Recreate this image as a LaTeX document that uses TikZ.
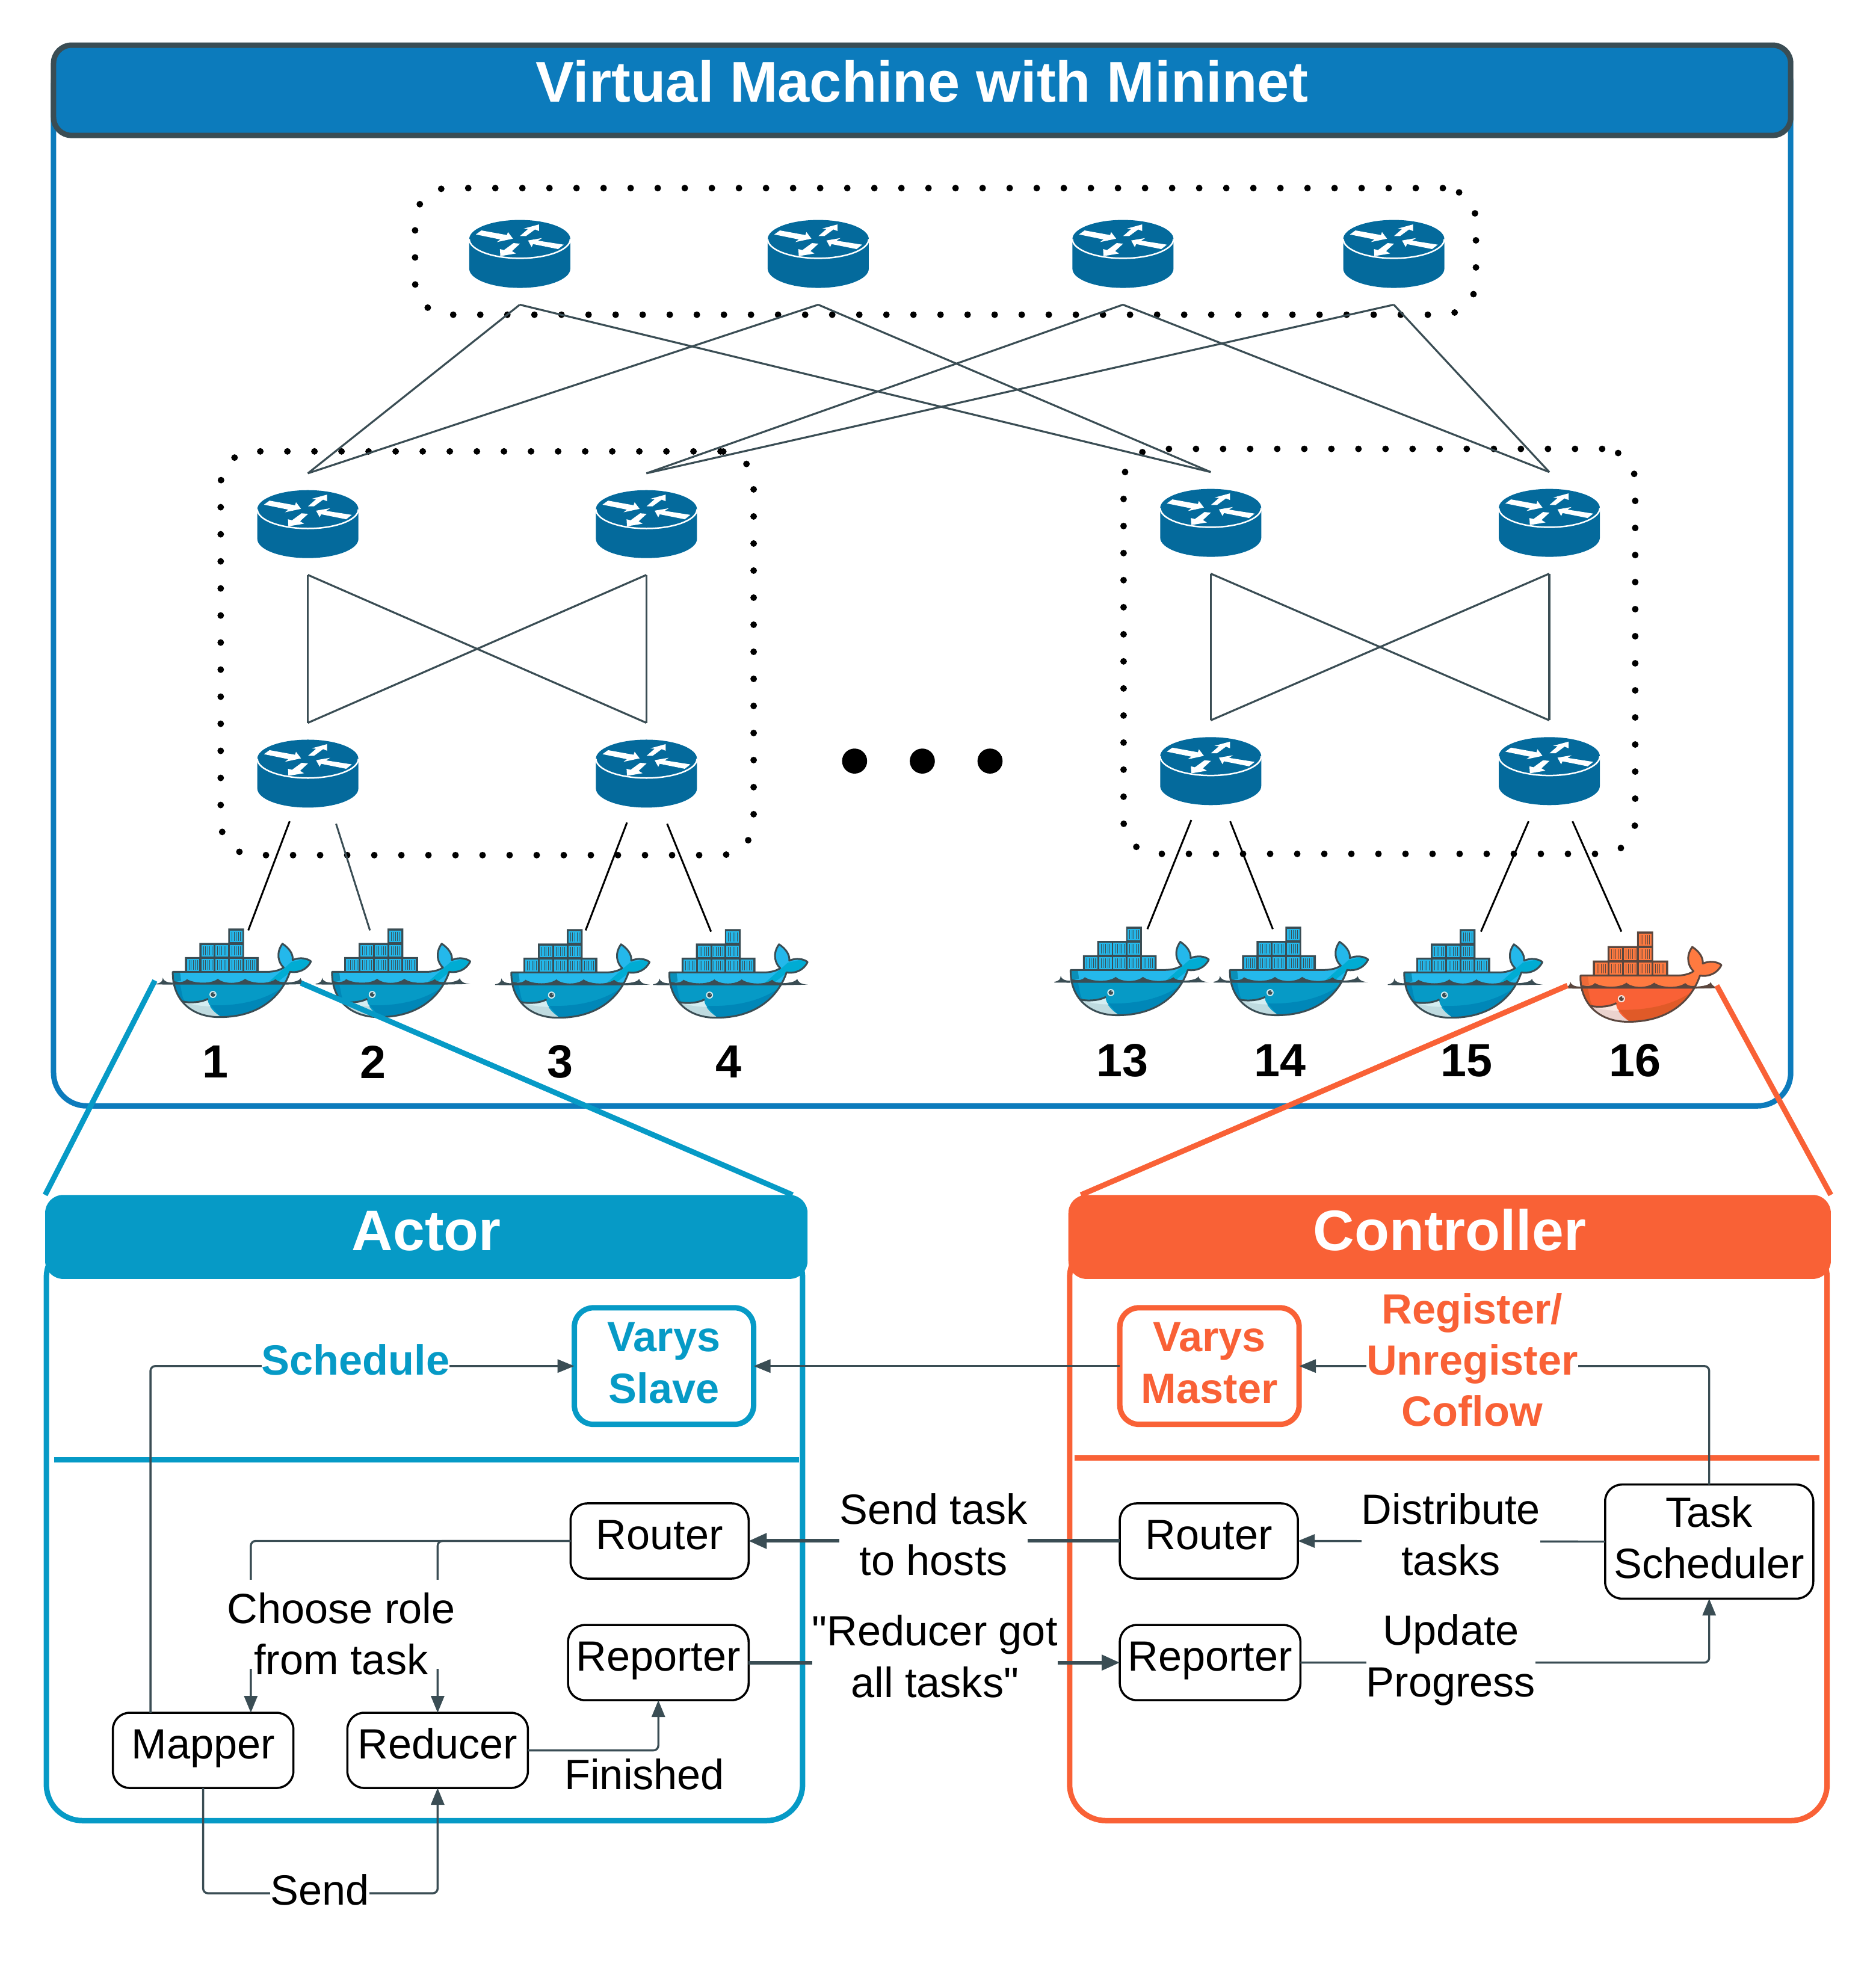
\documentclass[tikz,border=0pt]{standalone}
\usepackage{fontspec}
\setmainfont{Liberation Sans}
\newfontfamily\rawf{Liberation Sans}
\usetikzlibrary{arrows.meta,calc}
\newcommand\U{0.020842cm}
\newcommand\lowd[1]{\rule[-#1]{0pt}{#1}}
\definecolor{vmblue}{HTML}{0C7BBC}
\definecolor{dk}{HTML}{3A4D54}
\definecolor{actorc}{HTML}{069AC6}
\definecolor{ctrlc}{HTML}{F96136}
\definecolor{rtc}{HTML}{046A9C}
\newcommand\wbody{(143,365) -- (620,365) .. controls (660,365) and (690,355) .. (706,343) .. controls (680,320) and (665,270) .. (700,222) .. controls (735,245) and (755,275) .. (752,305) .. controls (785,290) and (825,295) .. (845,312) .. controls (825,355) and (780,372) .. (738,365) .. controls (710,450) and (620,595) .. (380,595) .. controls (230,595) and (140,500) .. (143,365) -- cycle}
\newcommand\setwhaleblue{%
\definecolor{wd}{HTML}{3A4D54}\definecolor{wl}{HTML}{24B8EB}\definecolor{wm}{HTML}{069AC6}%
\definecolor{wx}{HTML}{0087B8}\definecolor{wb}{HTML}{BFDBE0}\definecolor{wc}{HTML}{D4EDF1}\definecolor{wt}{HTML}{00ACD3}%
\definecolor{wg}{HTML}{0A8FB8}}
\newcommand\setwhaleorange{%
\definecolor{wd}{HTML}{5A463E}\definecolor{wl}{HTML}{FF7A40}\definecolor{wm}{HTML}{F96136}%
\definecolor{wx}{HTML}{E05A28}\definecolor{wb}{HTML}{EBD3CE}\definecolor{wc}{HTML}{F9E6E1}\definecolor{wt}{HTML}{FF7A40}%
\definecolor{wg}{HTML}{EE6A38}}
\tikzset{
  router/.pic={
    \fill[rtc] (-40.3,-11.8) -- (-40.3,11.8) arc[x radius=40.3,y radius=15.3,start angle=180,end angle=0] -- (40.3,-11.8) -- cycle;
    \fill[rtc] (0,-11.8) ellipse[x radius=40.3,y radius=15.3];
    \draw[white,line width=0.025cm] (-40.3,-11.8) arc[x radius=40.3,y radius=15.3,start angle=180,end angle=0];
    \begin{scope}[scale=0.16,shift={(-489,-304)}]
      \fill[white] (270,207)--(298,187)--(425,210)--(430,195)--(455,228)--(375,245)--(392,232)--cycle;
      \fill[white] (490,215)--(530,180)--(508,178)--(585,157)--(585,190)--(565,182)--(520,215)--cycle;
      \fill[white] (708,258)--(680,280)--(555,255)--(548,270)--(530,237)--(600,225)--(580,238)--cycle;
      \fill[white] (490,253)--(450,290)--(470,302)--(392,315)--(390,280)--(410,285)--(458,250)--cycle;
    \end{scope}
  },
  whale/.pic={
    \begin{scope}[scale=0.157,shift={(-450,-425)}]
      \fill[wl] \wbody;
      \begin{scope}
        \clip \wbody;
        \fill[wt] (745,315)--(860,290)--(860,390)--(735,370)--(665,425)--(620,425)--cycle;
        \fill[wg] (143,370)--(180,370)--(185,410)--(143,420)--cycle;
        \fill[wm] (100,425) rectangle (900,620);
        \fill[wx] (730,420) .. controls (640,500) and (500,540) .. (335,535) -- (390,600) -- (800,600) -- cycle;
        \fill[wx] (143,430)--(180,430) .. controls (190,470) and (190,500) .. (205,515) -- (143,515) -- cycle;
        \fill[wb] (190,515) .. controls (230,525) and (290,520) .. (320,508) .. controls (325,545) and (355,575) .. (395,598) -- (150,600) -- cycle;
        \fill[wc] (190,515) .. controls (230,525) and (290,520) .. (320,508) .. controls (322,520) and (325,530) .. (335,540) .. controls (280,540) and (230,530) .. (190,515) -- cycle;
        \fill[wd] (143,410) .. controls (170,420) and (200,420) .. (215,402) .. controls (250,425) and (340,428) .. (372,400) .. controls (400,428) and (480,428) .. (510,400) .. controls (540,425) and (630,430) .. (665,402) .. controls (680,420) and (710,420) .. (735,410) -- (735,430) -- (143,430) -- cycle;
      \end{scope}
      \draw[wd,line width=0.03cm,line join=round] \wbody;
      \draw[wd,line width=0.03cm] (190,515) .. controls (230,525) and (290,520) .. (322,502);
      \fill[wc] (347,480) circle[radius=18];
      \fill[wd] (347,480) circle[radius=12];
      \fill[wc] (353,475) circle[radius=3];
      \fill[wd] (60,425) .. controls (85,422) and (92,410) .. (92,395) .. controls (96,412) and (115,420) .. (143,420) -- (143,430) -- (60,429) -- cycle;
      \fill[wd] (700,420) .. controls (740,420) and (785,415) .. (792,397) .. controls (795,412) and (810,425) .. (845,427) -- (700,430) -- cycle;
      \fill[wd] (205,290)--(278,290)--(278,218)--(425,218)--(425,145)--(505,145)--(505,290)--(580,290)--(580,365)--(205,365)--cycle;
      \foreach \cx/\cy in {215/300,288/300,360/300,433/300,505/300,288/228,360/228,433/228,433/155}{
        \fill[wl] (\cx,\cy) rectangle ++(63,60);
        \foreach \k in {10,21,32,43,54}{
          \draw[wd,line width=0.008cm] ($(\cx,\cy)+(\k,6)$) -- ++(0,48);
        }
      }
    \end{scope}
  },
  plainbox/.style={draw=black,line width=0.035cm,rounded corners=0.28cm,inner sep=0pt,outer sep=0pt,font=\fontsize{20}{24.3}\selectfont,text height=15pt,text depth=7pt},
  taskbox/.style={draw=black,line width=0.035cm,rounded corners=0.28cm,inner sep=0pt,outer sep=0pt,font=\fontsize{20}{24.3}\selectfont,align=center},
  varysA/.style={draw=actorc,fill=white,text=actorc,line width=0.09cm,rounded corners=0.32cm,inner sep=0pt,outer sep=0pt,align=center,font=\bfseries\fontsize{20}{24.3}\selectfont},
  varysC/.style={draw=ctrlc,fill=white,text=ctrlc,line width=0.09cm,rounded corners=0.32cm,inner sep=0pt,outer sep=0pt,align=center,font=\bfseries\fontsize{20}{24.3}\selectfont},
  frameV/.style={draw=vmblue,line width=0.09cm,rounded corners=0.55cm,inner sep=0pt,outer sep=0pt},
  frameA/.style={draw=actorc,line width=0.09cm,rounded corners=0.6cm,inner sep=0pt,outer sep=0pt},
  frameC/.style={draw=ctrlc,line width=0.09cm,rounded corners=0.6cm,inner sep=0pt,outer sep=0pt},
  headV/.style={draw=dk,fill=vmblue,line width=0.09cm,rounded corners=0.3cm,inner sep=0pt,outer sep=0pt,text=white,font=\bfseries\fontsize{27.2}{32}\selectfont,text height=21pt,text depth=10pt},
  headA/.style={fill=actorc,rounded corners=0.3cm,inner sep=0pt,outer sep=0pt,text=white,font=\bfseries\fontsize{27}{32}\selectfont,text height=21pt,text depth=8pt},
  headC/.style={fill=ctrlc,rounded corners=0.3cm,inner sep=0pt,outer sep=0pt,text=white,font=\bfseries\fontsize{27}{32}\selectfont,text height=21pt,text depth=8pt},
  dotbox/.style={draw=black,line width=0.11cm,dash pattern=on 0pt off 0.45cm,line cap=round,rounded corners=0.55cm,inner sep=0pt,outer sep=0pt},
  rtnode/.style={minimum width=81*\U,minimum height=81*\U,inner sep=0pt,outer sep=0pt},
  link/.style={draw=dk,line width=0.032cm},
  hostk/.style={draw=black,line width=0.03cm},
  hostd/.style={draw=dk,line width=0.03cm},
  conn/.style={draw=dk,line width=0.034cm,rounded corners=0.08cm},
  arrowed/.style={-{Triangle[length=0.28cm,width=0.22cm]}},
  thickconn/.style={draw=dk,line width=0.06cm,-{Triangle[length=0.3cm,width=0.25cm]}},
  lab/.style={fill=white,inner sep=0pt,outer sep=0pt,align=center,font=\rawf\fontsize{20}{24.3}\selectfont},
  labA/.style={lab,text=actorc,font=\bfseries\fontsize{20}{24.3}\selectfont},
  labC/.style={lab,text=ctrlc,font=\bfseries\fontsize{20}{24.3}\selectfont},
  num/.style={inner sep=0pt,outer sep=0pt,font=\bfseries\fontsize{22}{26}\selectfont},
  zoomA/.style={draw=actorc,line width=0.09cm},
  zoomC/.style={draw=ctrlc,line width=0.09cm},
}
\newcommand\rtr[3]{\node[rtnode] (#1) at (#2,#3) {}; \pic at (#2,#3) {router};}
\newcommand\whl[4][]{\coordinate (#2) at (#3,#4); \pic[#1] at (#2) {whale};}
\newcommand\bx[7][]{\node[#2,#1,minimum width={(#6-#4)*\U},minimum height={(#7-#5)*\U}] (#3) at ({(#4+#6)/2},{(#5+#7)/2})}
\begin{document}
\begin{tikzpicture}[x=0.020842cm,y=-0.020842cm]
\useasboundingbox (0,0) rectangle (1496,1568);
\setwhaleblue
% VM frame
\bx{frameV}{vmframe}{42.7}{40}{1428}{882} {};
\bx{headV}{vmhead}{42.7}{36}{1428}{108} {Virtual Machine with Mininet};
% dotted groups
\bx{dotbox}{dtop}{331}{150}{1177}{251} {};
\bx{dotbox}{dleft}{176}{360}{601}{682} {};
\bx{dotbox}{dright}{896}{358}{1304}{681} {};
% routers
\rtr{c1}{414.5}{202.5}\rtr{c2}{652.5}{202.5}\rtr{c3}{895.5}{202.5}\rtr{c4}{1111.5}{202.5}
\rtr{a1}{245.5}{418}\rtr{a2}{515.5}{418}\rtr{e1}{245.5}{617}\rtr{e2}{515.5}{617}
\rtr{a3}{965.5}{417}\rtr{a4}{1235.5}{417}\rtr{e3}{965.5}{615}\rtr{e4}{1235.5}{615}
% links
\foreach \p/\q in {c1/a1,c2/a1,c1/a3,c2/a3,c3/a2,c4/a2,c3/a4,c4/a4,
                   a1/e1,a1/e2,a2/e1,a2/e2,a3/e3,a3/e4,a4/e3,a4/e4}{
  \draw[link] (\p.south) -- (\q.north);
}
% three dots
\foreach \n/\x in {d1/681.5,d2/735.5,d3/789.5}{
  \fill[black] (\x,607) circle[radius=10];
  \coordinate (\n) at (\x,607);
}
% whales
\whl{w1}{186}{784.5}\whl{w2}{313}{784.5}\whl{w3}{456}{785}\whl{w4}{582}{785}
\whl{w13}{902}{783}\whl{w14}{1029}{783}\whl{w15}{1168}{785}
\setwhaleorange
\whl[scale=1.02]{w16}{1309.5}{787.7}
% host links: free ends
\foreach \n/\a/\b/\c/\d/\s in {
  l1/231/655/198/742/hostk, l2/268/657/295/742/hostd,
  l3/500/656/467/742/hostk, l4/532/657/567/743/hostk,
  l13/950/654/915/741/hostk, l14/981/655/1015/741/hostk,
  l15/1219/655/1181/743/hostk, l16/1254/655/1293/743/hostk}{
  \coordinate (\n a) at (\a,\b);
  \coordinate (\n b) at (\c,\d);
  \draw[\s] (\n a) -- (\n b);
}
% numbers
\foreach \n/\t/\x/\y in {n1/1/172/847,n2/2/297.5/847,n3/3/446.5/847,n4/4/581/847,
  n13/13/895/846,n14/14/1021/846,n15/15/1169.5/846,n16/16/1304/846}{
  \node[num] (\n) at (\x,\y) {\t};
}
% Actor
\bx{frameA}{actorframe}{37}{990}{640}{1452} {};
\bx{headA}{actorhead}{36}{953}{644}{1020} {Actor};
\bx{frameC}{ctrlframe}{853}{990}{1457}{1452} {};
\bx{headC}{ctrlhead}{852}{953}{1460}{1020} {Controller};
\coordinate (zA1) at (123.5,782);
\coordinate (zA2) at (240,784);
\coordinate (zC1) at (1250,786);
\coordinate (zC2) at (1369,786);
\draw[zoomA] (zA1) -- (actorhead.north west);
\draw[zoomA] (zA2) -- ($(actorhead.north east)+(-12,0)$);
\draw[zoomC] (zC1) -- ($(ctrlhead.north west)+(10,0)$);
\draw[zoomC] (zC2) -- (ctrlhead.north east);
\coordinate (divA1) at (43,1164);\coordinate (divA2) at (637,1164);
\coordinate (divC1) at (857,1163);\coordinate (divC2) at (1451,1163);
\draw[actorc,line width=0.09cm] (divA1) -- (divA2);
\draw[ctrlc,line width=0.09cm] (divC1) -- (divC2);
% Boxes
\bx{varysA}{slave}{458}{1043}{601}{1136} {Varys\\Slave\lowd{3pt}};
\bx{varysC}{master}{893}{1043}{1036}{1136} {Varys\\Master\lowd{3pt}};
\bx{plainbox}{rtrA}{455}{1199}{597}{1259} {Router};
\bx{plainbox}{repA}{453}{1296}{597}{1356} {Reporter};
\bx{plainbox}{mapper}{90}{1366}{234}{1426} {Mapper};
\bx{plainbox}{reducer}{277}{1366}{421}{1426} {Reducer};
\bx{plainbox}{rtrC}{893}{1199}{1035}{1259} {Router};
\bx{plainbox}{repC}{893}{1296}{1037}{1356} {Reporter};
\bx{taskbox}{tsched}{1280}{1184}{1446}{1275} {Task\\Scheduler\lowd{4pt}};
% Connectors
\draw[conn,arrowed] ($(mapper.north west)+(30,0)$) |- (slave.west);
\draw[conn,arrowed] (master.west) -- (slave.east);
\draw[conn,arrowed] (tsched.north) |- (master.east);
\draw[conn,arrowed] (tsched.west) -- (rtrC.east);
\draw[conn,arrowed] (repC.east) -| (tsched.south);
\draw[thickconn] (rtrC.west) -- (rtrA.east);
\draw[thickconn] (repA.east) -- (repC.west);
\draw[conn,arrowed] (rtrA.west) -| ($(mapper.north)+(38,0)$);
\draw[conn,arrowed] (rtrA.west) -| (reducer.north);
\draw[conn,arrowed] (reducer.east) -| (repA.south);
\coordinate (sendbus) at (255,1510);
\draw[conn,arrowed] (mapper.south) -- (mapper.south |- sendbus) -- (reducer.south |- sendbus) -- (reducer.south);
% Labels
\node[labA] (lSchedule) at (283.5,1084.5) {Schedule};
\node[labC] (lRegister) at (1174,1084.5) {Register/\\Unregister\\Coflow};
\node[lab] (lSend) at (744.5,1224) {Send task\\to hosts};
\node[lab] (lGot) at (745.5,1321) {"Reducer got\\all tasks"};
\node[lab] (lDist) at (1157,1224) {Distribute\\tasks};
\node[lab] (lProg) at (1157,1324) {Update\\Progress};
\node[fill=white,inner sep=0pt,minimum width=181*\U,minimum height=71*\U] (lChooseBg) at (271.5,1295.5) {};
\node[lab,fill=none] (lChoose) at (272,1303) {Choose role\\from task};
\node[lab,fill=none] (lFinished) at (514,1415) {Finished};
\node[lab] (lSendM) at (255,1507) {Send};
\end{tikzpicture}
\end{document}
